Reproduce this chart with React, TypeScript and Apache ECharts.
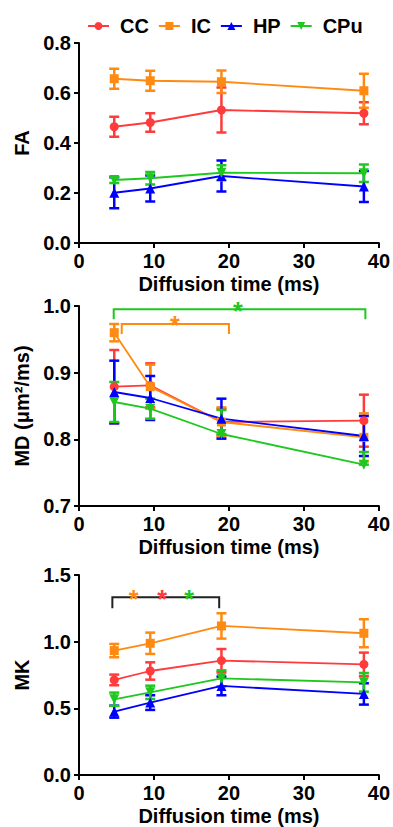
import React, { useEffect, useRef } from "react";
import * as echarts from "echarts";

// ---- data ----
const diffusionTimes = [4.7, 9.5, 19, 38];
const seriesNames = ["CC", "IC", "HP", "CPu"];

const faMean = {
  CC: [0.465, 0.482, 0.532, 0.519],
  IC: [0.657, 0.649, 0.645, 0.609],
  HP: [0.201, 0.218, 0.268, 0.226],
  CPu: [0.252, 0.259, 0.281, 0.279],
};
const faErrUp = {
  CC: [0.04, 0.037, 0.09, 0.044],
  IC: [0.04, 0.04, 0.045, 0.068],
  HP: [0.062, 0.052, 0.062, 0.062],
  CPu: [0.012, 0.025, 0.03, 0.035],
};
const faErrDown = faErrUp;

const mdMean = {
  CC: [0.879, 0.881, 0.826, 0.828],
  IC: [0.96, 0.879, 0.826, 0.803],
  HP: [0.871, 0.862, 0.831, 0.805],
  CPu: [0.856, 0.846, 0.808, 0.762],
};
const mdErrUp = {
  CC: [0.055, 0.033, 0.02, 0.039],
  IC: [0.013, 0.033, 0.022, 0.036],
  HP: [0.047, 0.033, 0.03, 0.03],
  CPu: [0.03, 0.015, 0.036, 0.019],
};
const mdErrDown = {
  CC: [0.055, 0.033, 0.02, 0.039],
  IC: [0.013, 0.033, 0.022, 0.036],
  HP: [0.047, 0.033, 0.03, 0.03],
  CPu: [0.03, 0.015, 0.0, 0.0],
};

const mkMean = {
  CC: [0.713, 0.78, 0.858, 0.83],
  IC: [0.933, 0.988, 1.118, 1.063],
  HP: [0.475, 0.543, 0.668, 0.608],
  CPu: [0.568, 0.62, 0.725, 0.695],
};
const mkErrUp = {
  CC: [0.04, 0.065, 0.087, 0.088],
  IC: [0.05, 0.08, 0.095, 0.105],
  HP: [0.045, 0.055, 0.07, 0.08],
  CPu: [0.05, 0.05, 0.06, 0.07],
};
const mkErrDown = mkErrUp;

// significance brackets and stars
const mdBrackets = [
  { x1: 4.63, x2: 38.2, y: 0.995, yEnd: 0.98, group: "CPu" },
  { x1: 5.7, x2: 20.0, y: 0.973, yEnd: 0.958, group: "IC" },
];
const mdStars = [
  { x: 21.2, y: 1.003, group: "CPu" },
  { x: 12.8, y: 0.982, group: "IC" },
];
const mkBrackets = [{ x1: 4.45, x2: 18.7, y: 1.333, yEnd: 1.25, group: "none" }];
const mkStars = [
  { x: 7.3, y: 1.373, group: "IC" },
  { x: 11.1, y: 1.373, group: "CC" },
  { x: 14.7, y: 1.373, group: "CPu" },
];

const xTicks = [0, 10, 20, 30, 40];

// ---- styles ----
const colors: Record<string, string> = {
  CC: "#FF3B3B",
  IC: "#FF8A12",
  HP: "#0000FF",
  CPu: "#1EC81E",
  none: "#222222",
};
const symbols: Record<string, string> = {
  CC: "circle",
  IC: "rect",
  HP: "triangle",
  CPu: "triangle",
};
const FONT = "'Liberation Sans', Arial, sans-serif";
const FS = 20;

function buildOption() {
  const panels = [
    { mean: faMean, up: faErrUp, down: faErrDown },
    { mean: mdMean, up: mdErrUp, down: mdErrDown },
    { mean: mkMean, up: mkErrUp, down: mkErrDown },
  ];
  const series: any[] = [];
  panels.forEach((p, gi) => {
    seriesNames.forEach((name) => {
      const c = colors[name];
      const m = (p.mean as any)[name] as number[];
      const eu = (p.up as any)[name] as number[];
      const ed = (p.down as any)[name] as number[];
      series.push({
        type: "custom",
        name: name + "-err-" + gi,
        xAxisIndex: gi,
        yAxisIndex: gi,
        z: 2,
        encode: { x: 0, y: [1, 2] },
        data: diffusionTimes.map((x, i) => [x, m[i] - ed[i], m[i] + eu[i]]),
        renderItem: (params: any, api: any) => {
          const x = api.value(0);
          const top = api.coord([x, api.value(2)]);
          const bot = api.coord([x, api.value(1)]);
          const w = 5;
          const st = { stroke: c, lineWidth: 2.5 };
          return {
            type: "group",
            children: [
              { type: "line", shape: { x1: top[0], y1: top[1], x2: bot[0], y2: bot[1] }, style: st },
              { type: "line", shape: { x1: top[0] - w, y1: top[1], x2: top[0] + w, y2: top[1] }, style: st },
              { type: "line", shape: { x1: bot[0] - w, y1: bot[1], x2: bot[0] + w, y2: bot[1] }, style: st },
            ],
          };
        },
      });
    });
    seriesNames.forEach((name) => {
      const c = colors[name];
      const m = (p.mean as any)[name] as number[];
      series.push({
        type: "line",
        name,
        xAxisIndex: gi,
        yAxisIndex: gi,
        z: 3,
        data: diffusionTimes.map((x, i) => [x, m[i]]),
        symbol: symbols[name],
        symbolSize: name === "CC" ? 9 : name === "IC" ? 9 : 10,
        symbolRotate: name === "CPu" ? 180 : 0,
        lineStyle: { color: c, width: 1.8 },
        itemStyle: { color: c },
      });
    });
  });

  const bracketSeries = (data: any[], gi: number) => ({
    type: "custom",
    name: "brackets-" + gi,
    xAxisIndex: gi,
    yAxisIndex: gi,
    z: 4,
    encode: { x: [0, 1], y: [2, 3] },
    data: data.map((b) => [b.x1, b.x2, b.y, b.yEnd]),
    renderItem: (params: any, api: any) => {
      const g = data[params.dataIndex].group;
      const a = api.coord([api.value(0), api.value(3)]);
      const b = api.coord([api.value(0), api.value(2)]);
      const c = api.coord([api.value(1), api.value(2)]);
      const d = api.coord([api.value(1), api.value(3)]);
      return {
        type: "polyline",
        shape: { points: [a, b, c, d] },
        style: { stroke: colors[g], lineWidth: 2, fill: "none" },
      };
    },
  });
  const starSeries = (data: any[], gi: number) => ({
    type: "custom",
    name: "stars-" + gi,
    xAxisIndex: gi,
    yAxisIndex: gi,
    z: 4,
    encode: { x: 0, y: 1 },
    data: data.map((s) => [s.x, s.y]),
    renderItem: (params: any, api: any) => {
      const g = data[params.dataIndex].group;
      const p = api.coord([api.value(0), api.value(1)]);
      return {
        type: "text",
        x: p[0],
        y: p[1] + 7,
        style: {
          text: "*",
          fill: colors[g],
          font: "bold 25px " + FONT,
          align: "center",
          verticalAlign: "middle",
        },
      };
    },
  });
  series.push(bracketSeries(mdBrackets, 1), starSeries(mdStars, 1));
  series.push(bracketSeries(mkBrackets, 2), starSeries(mkStars, 2));

  const tops = [43, 306, 575];
  const grids = tops.map((t) => ({ left: 79, right: 14, top: t, height: 200 }));
  const axisCommon = {
    axisLine: { show: true, lineStyle: { color: "#000", width: 2 } },
    axisTick: { show: true, length: 5, lineStyle: { color: "#000", width: 2 } },
    splitLine: { show: false },
    axisLabel: { color: "#000", fontSize: FS, fontWeight: "bold", fontFamily: FONT },
    nameTextStyle: { color: "#000", fontSize: FS, fontWeight: "bold", fontFamily: FONT },
  };
  const xAxes = tops.map((_, i) => ({
    ...axisCommon,
    type: "value",
    gridIndex: i,
    min: xTicks[0],
    max: xTicks[xTicks.length - 1],
    interval: 10,
    name: "Diffusion time (ms)",
    nameLocation: "middle",
    nameGap: 31,
    axisLabel: { ...axisCommon.axisLabel, margin: 8 },
  }));
  const yDefs = [
    { name: "FA", min: 0, max: 0.8, interval: 0.2 },
    { name: "MD (μm²/ms)", min: 0.7, max: 1.0, interval: 0.1 },
    { name: "MK", min: 0, max: 1.5, interval: 0.5 },
  ];
  const yAxes = yDefs.map((d, i) => ({
    ...axisCommon,
    type: "value",
    gridIndex: i,
    min: d.min,
    max: d.max,
    interval: d.interval,
    name: d.name,
    nameLocation: "middle",
    nameGap: 45,
    axisLabel: {
      ...axisCommon.axisLabel,
      margin: 8,
      formatter: (v: number) => v.toFixed(1),
    },
  }));

  return {
    animation: false,
    backgroundColor: "#fff",
    textStyle: { fontFamily: FONT },
    legend: {
      data: seriesNames,
      left: 82,
      top: 11,
      itemWidth: 21,
      itemHeight: 10,
      itemGap: 9,
      textStyle: {
        color: "#000",
        fontSize: FS,
        fontWeight: "bold",
        fontFamily: FONT,
        padding: [0, 0, 0, 6],
      },
    },
    grid: grids,
    xAxis: xAxes,
    yAxis: yAxes,
    series,
  };
}

export default function App() {
  const ref = useRef<HTMLDivElement>(null);
  useEffect(() => {
    if (!ref.current) return;
    const chart = echarts.init(ref.current, undefined, { renderer: "svg" });
    chart.setOption(buildOption() as any);
    return () => chart.dispose();
  }, []);
  return (
    <div
      ref={ref}
      style={{ position: "absolute", left: 0, top: 0, width: 393, height: 827, background: "#fff" }}
    />
  );
}
